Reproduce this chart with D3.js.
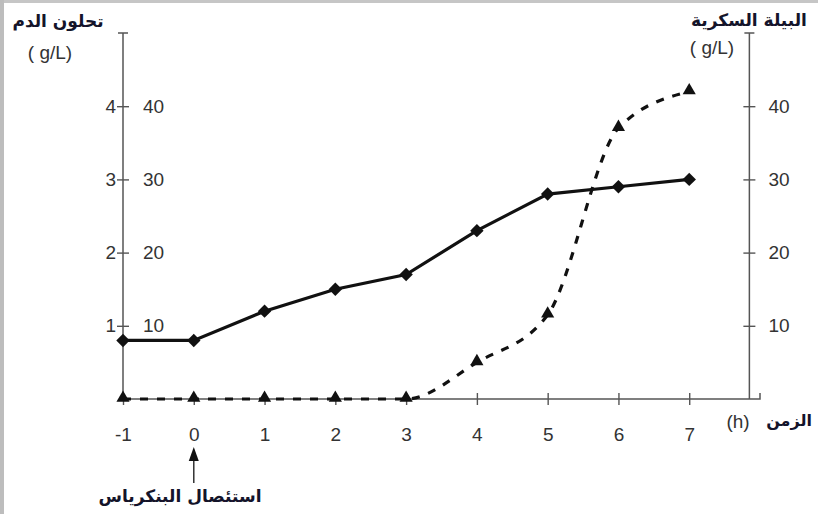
<!DOCTYPE html>
<html>
<head>
<meta charset="utf-8">
<script src="https://cdn.jsdelivr.net/npm/d3@7"></script>
<style>
  body { margin: 0; background: #fff; }
  text { font-family: "Liberation Sans", Arial, sans-serif; }
  .ar { font-family: "DejaVu Sans", sans-serif; font-weight: bold; fill: #14142a; }
</style>
</head>
<body>
<svg></svg>
<script>
// data
const hours = [-1, 0, 1, 2, 3, 4, 5, 6, 7]
const glycemia = [0.8, 0.8, 1.2, 1.5, 1.7, 2.3, 2.8, 2.9, 3.0]      // g/L, left scale
const glycosuria = [0, 0, 0, 0, 0, 5, 11.5, 37, 42]                 // g/L, right scale
const leftTicks = [1, 2, 3, 4]
const rightTicks = [10, 20, 30, 40]

const width = 818
const height = 514
const axisColor = '#555'
const labelColor = '#333'
const fmt = d => String(d)

const svg = d3.select('svg')
    .attr('width', width)
    .attr('height', height)

// grey scan border (top / left)
svg.append('rect').attr('x', 0).attr('y', 0).attr('width', width).attr('height', 3).attr('fill', '#c6c6c6')
svg.append('rect').attr('x', 0).attr('y', 0).attr('width', 4).attr('height', height).attr('fill', '#bdbdbd')

const xScale = d3.scaleLinear()
                    .domain([-1, 8])
                    .range([123, 760])
const yScale = d3.scaleLinear()
                    .domain([0, 5])
                    .range([399, 33])
const yRScale = d3.scaleLinear()
                    .domain([0, 50])
                    .range([399, 33])
const rightX = xScale(7.85)

// x axis
const xAxis = d3.axisBottom(xScale)
                    .tickValues(hours)
                    .tickFormat(fmt)
                    .tickSize(6)
                    .tickPadding(23)
const gx = svg.append('g')
        .attr('transform', 'translate(0,' + yScale(0) + ')')
        .call(xAxis)
gx.select('.domain').remove()
gx.selectAll('.tick line').attr('y1', -6).attr('stroke', axisColor).attr('stroke-width', 1.4)
gx.selectAll('.tick text').attr('font-size', 19).attr('fill', labelColor)
svg.append('path')
        .attr('d', 'M' + xScale(-1) + ',' + yScale(0) + 'H' + xScale(8) + 'V' + (yScale(0) - 6))
        .attr('fill', 'none')
        .attr('stroke', axisColor)
        .attr('stroke-width', 1.5)

// left axis: numbers on both sides
const yAxis = d3.axisLeft(yScale)
                    .tickValues(leftTicks)
                    .tickFormat(fmt)
                    .tickSize(6)
                    .tickPadding(1)
const gy = svg.append('g')
        .attr('transform', 'translate(' + xScale(-1) + ',0)')
        .call(yAxis)
gy.select('.domain').remove()
gy.selectAll('.tick line').attr('x1', 6).attr('stroke', axisColor).attr('stroke-width', 1.4)
gy.selectAll('.tick text').attr('font-size', 19).attr('fill', labelColor)

const yAxis2 = d3.axisRight(yRScale)
                    .tickValues(rightTicks)
                    .tickFormat(fmt)
                    .tickSize(0)
                    .tickPadding(20)
const gy2 = svg.append('g')
        .attr('transform', 'translate(' + xScale(-1) + ',0)')
        .call(yAxis2)
gy2.select('.domain').remove()
gy2.selectAll('.tick text').attr('font-size', 19).attr('fill', labelColor)

// right axis
const yAxisR = d3.axisRight(yRScale)
                    .tickValues(rightTicks)
                    .tickFormat(fmt)
                    .tickSize(6)
                    .tickPadding(13)
const gr = svg.append('g')
        .attr('transform', 'translate(' + rightX + ',0)')
        .call(yAxisR)
gr.select('.domain').remove()
gr.selectAll('.tick line').attr('x1', -6).attr('stroke', axisColor).attr('stroke-width', 1.4)
gr.selectAll('.tick text').attr('font-size', 19).attr('fill', labelColor)

// vertical axis lines with top caps
;[xScale(-1), rightX].forEach(ax => {
    svg.append('path')
        .attr('d', 'M' + ax + ',' + yScale(0) + 'V' + yScale(5) + 'M' + (ax - 5) + ',' + yScale(5) + 'H' + (ax + 5))
        .attr('fill', 'none')
        .attr('stroke', axisColor)
        .attr('stroke-width', 1.5)
})

// glycosuria: dashed curve with triangles
const lineR = d3.line()
        .x((d, i) => xScale(hours[i]))
        .y(d => yRScale(d))
        .curve(d3.curveMonotoneX)
svg.append('path')
        .datum(glycosuria)
        .attr('d', lineR)
        .attr('fill', 'none')
        .attr('stroke', '#111')
        .attr('stroke-width', 3.2)
        .attr('stroke-dasharray', '8,9')

svg.selectAll('.tri')
    .data(glycosuria)
    .enter()
    .append('path')
        .attr('class', 'tri')
        .attr('transform', (d, i) => 'translate(' + xScale(hours[i]) + ',' + (yRScale(d) - 1) + ')')
        .attr('d', d3.symbol(d3.symbolTriangle, 75))
        .attr('fill', '#111')

// glycemia: solid line with diamonds
const line = d3.line()
        .x((d, i) => xScale(hours[i]))
        .y(d => yScale(d))
svg.append('path')
        .datum(glycemia)
        .attr('d', line)
        .attr('fill', 'none')
        .attr('stroke', '#111')
        .attr('stroke-width', 3.2)

svg.selectAll('.dia')
    .data(glycemia)
    .enter()
    .append('path')
        .attr('class', 'dia')
        .attr('transform', (d, i) => 'translate(' + xScale(hours[i]) + ',' + yScale(d) + ') rotate(45)')
        .attr('d', d3.symbol(d3.symbolSquare, 90))
        .attr('fill', '#111')

// titles
svg.append('text')
        .attr('class', 'ar')
        .attr('x', 58)
        .attr('y', 27)
        .attr('font-size', 17)
        .style('text-anchor', 'middle')
        .text('تحلون الدم')
svg.append('text')
        .attr('x', 50)
        .attr('y', 59)
        .attr('font-size', 19)
        .attr('fill', labelColor)
        .style('text-anchor', 'middle')
        .text('( g/L)')

svg.append('text')
        .attr('class', 'ar')
        .attr('x', 749)
        .attr('y', 26)
        .attr('font-size', 17)
        .style('text-anchor', 'middle')
        .text('البيلة السكرية')
svg.append('text')
        .attr('x', 712)
        .attr('y', 54)
        .attr('font-size', 19)
        .attr('fill', labelColor)
        .style('text-anchor', 'middle')
        .text('( g/L)')

svg.append('text')
        .attr('class', 'ar')
        .attr('x', 789)
        .attr('y', 426)
        .attr('font-size', 16)
        .style('text-anchor', 'middle')
        .text('الزمن')
svg.append('text')
        .attr('x', 738)
        .attr('y', 428)
        .attr('font-size', 19)
        .attr('fill', labelColor)
        .style('text-anchor', 'middle')
        .text('(h)')

// pancreatectomy marker
const arrowX = xScale(0)
svg.append('line')
        .attr('x1', arrowX).attr('x2', arrowX)
        .attr('y1', 483).attr('y2', 456)
        .attr('stroke', '#333')
        .attr('stroke-width', 1.5)
svg.append('path')
        .attr('d', 'M' + arrowX + ',447L' + (arrowX - 5) + ',461L' + (arrowX + 5) + ',461Z')
        .attr('fill', '#111')
svg.append('text')
        .attr('class', 'ar')
        .attr('x', 180)
        .attr('y', 502)
        .attr('font-size', 17)
        .style('text-anchor', 'middle')
        .text('استئصال البنكرياس')
</script>
</body>
</html>
